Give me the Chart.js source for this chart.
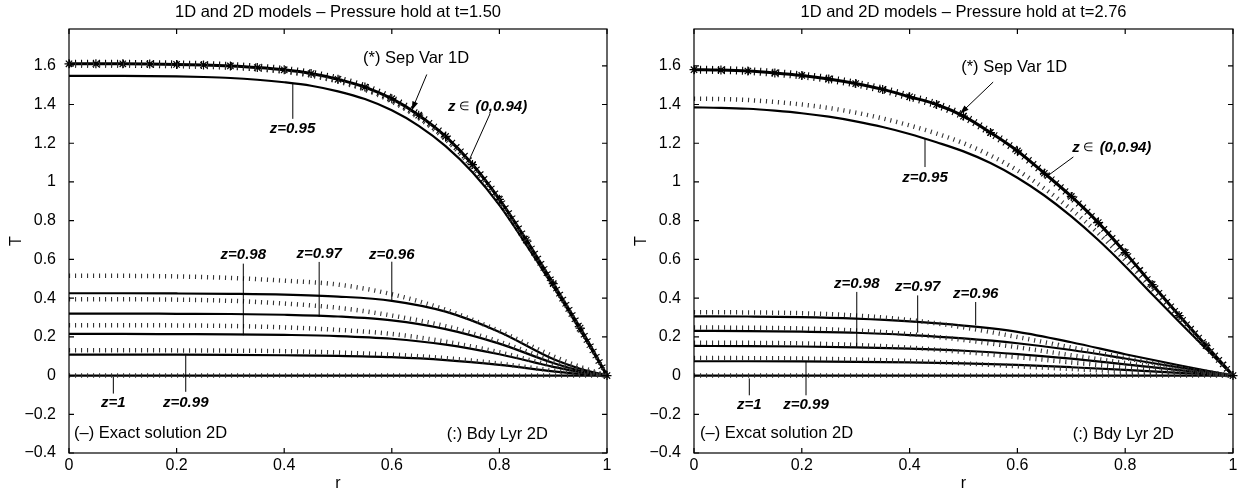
<!DOCTYPE html>
<html>
<head>
<meta charset="utf-8">
<script src="https://cdn.jsdelivr.net/npm/chart.js@4.4.0/dist/chart.umd.min.js"></script>
<style>
    body { margin: 0; background: #fff; }
    #wrap { position: relative; width: 1246px; height: 495px; }
    canvas { position: absolute; top: 0; }
</style>
</head>
<body>
<div id="wrap">
    <canvas id="chartLeft" width="623" height="495" style="left:0"></canvas>
    <canvas id="chartRight" width="623" height="495" style="left:623px"></canvas>
</div>
<script>
(function () {
    "use strict";

    //------------------------------------------------------------ Data ---------------------------------------------------------------
    var rMain = [0, 0.05, 0.1, 0.15, 0.2, 0.25, 0.3, 0.35, 0.4, 0.45, 0.5, 0.55, 0.6, 0.65, 0.7, 0.75, 0.8, 0.85, 0.9, 0.95, 1];
    var rLow = [0, 0.1, 0.2, 0.3, 0.4, 0.5, 0.6, 0.7, 0.8, 0.9, 0.95, 1];
    var xTicks = [0, 0.2, 0.4, 0.6, 0.8, 1];
    var yTicks = [-0.4, -0.2, 0, 0.2, 0.4, 0.6, 0.8, 1, 1.2, 1.4, 1.6];

    // t = 1.50
    var sepVar1D_L = [1.610, 1.610, 1.610, 1.609, 1.607, 1.604, 1.599, 1.591, 1.579, 1.560, 1.530, 1.490, 1.430, 1.345, 1.235, 1.090, 0.910, 0.700, 0.475, 0.245, 0];
    var exact95_L = [1.548, 1.548, 1.548, 1.547, 1.545, 1.542, 1.537, 1.528, 1.515, 1.497, 1.468, 1.428, 1.370, 1.290, 1.185, 1.050, 0.880, 0.675, 0.460, 0.235, 0];
    var bdy95_L = [1.605, 1.605, 1.605, 1.604, 1.602, 1.598, 1.592, 1.583, 1.570, 1.549, 1.518, 1.476, 1.415, 1.330, 1.220, 1.075, 0.897, 0.690, 0.468, 0.240, 0];
    var exact96_L = [0.425, 0.425, 0.424, 0.422, 0.418, 0.408, 0.386, 0.330, 0.225, 0.085, 0.035, 0];
    var exact97_L = [0.320, 0.320, 0.319, 0.318, 0.314, 0.305, 0.285, 0.240, 0.165, 0.065, 0.025, 0];
    var exact98_L = [0.215, 0.215, 0.214, 0.213, 0.210, 0.204, 0.190, 0.160, 0.110, 0.045, 0.017, 0];
    var exact99_L = [0.108, 0.108, 0.108, 0.107, 0.105, 0.102, 0.095, 0.080, 0.055, 0.022, 0.008, 0];
    var bdy96_L = [0.515, 0.515, 0.512, 0.504, 0.490, 0.470, 0.420, 0.340, 0.230, 0.100, 0.045, 0];
    var bdy97_L = [0.394, 0.394, 0.392, 0.386, 0.372, 0.350, 0.310, 0.255, 0.175, 0.075, 0.033, 0];
    var bdy98_L = [0.260, 0.260, 0.259, 0.256, 0.249, 0.236, 0.215, 0.175, 0.120, 0.050, 0.022, 0];
    var bdy99_L = [0.131, 0.131, 0.130, 0.129, 0.126, 0.119, 0.108, 0.090, 0.062, 0.026, 0.011, 0];

    // t = 2.76
    var sepVar1D_R = [1.580, 1.578, 1.573, 1.563, 1.550, 1.532, 1.508, 1.478, 1.440, 1.400, 1.340, 1.255, 1.160, 1.045, 0.925, 0.790, 0.635, 0.470, 0.310, 0.155, 0];
    var exact95_R = [1.385, 1.383, 1.378, 1.368, 1.355, 1.337, 1.313, 1.284, 1.248, 1.205, 1.158, 1.098, 1.022, 0.930, 0.822, 0.700, 0.565, 0.420, 0.278, 0.138, 0];
    var bdy95_R = [1.430, 1.428, 1.423, 1.413, 1.400, 1.382, 1.358, 1.328, 1.292, 1.250, 1.200, 1.137, 1.060, 0.966, 0.858, 0.735, 0.596, 0.447, 0.298, 0.148, 0];
    var exact96_R = [0.306, 0.305, 0.302, 0.294, 0.280, 0.258, 0.226, 0.172, 0.110, 0.053, 0.026, 0];
    var exact97_R = [0.231, 0.230, 0.227, 0.221, 0.209, 0.192, 0.167, 0.132, 0.088, 0.042, 0.020, 0];
    var exact98_R = [0.153, 0.152, 0.150, 0.146, 0.139, 0.128, 0.111, 0.087, 0.058, 0.028, 0.013, 0];
    var exact99_R = [0.074, 0.074, 0.073, 0.071, 0.068, 0.063, 0.055, 0.043, 0.029, 0.014, 0.007, 0];
    var bdy96_R = [0.327, 0.326, 0.322, 0.310, 0.287, 0.249, 0.199, 0.145, 0.091, 0.042, 0.020, 0];
    var bdy97_R = [0.248, 0.247, 0.243, 0.233, 0.214, 0.184, 0.146, 0.105, 0.065, 0.030, 0.014, 0];
    var bdy98_R = [0.170, 0.169, 0.166, 0.158, 0.144, 0.122, 0.095, 0.068, 0.042, 0.019, 0.009, 0];
    var bdy99_R = [0.091, 0.090, 0.088, 0.083, 0.075, 0.063, 0.048, 0.034, 0.021, 0.010, 0.005, 0];

    // z = 1 : wall, zero everywhere
    var zeroLine = [0, 0, 0, 0, 0, 0, 0, 0, 0, 0, 0, 0];

    //------------------------------------------------------------ Annotations (data units) ---------------------------------------------------------------
    var annLines_L = [
        { x1: 0.665, y1: 1.555, x2: 0.637, y2: 1.369, arrow: true },
        { x1: 0.7825, y1: 1.352, x2: 0.745, y2: 1.12 },
        { x1: 0.416, y1: 1.512, x2: 0.416, y2: 1.326 },
        { x1: 0.324, y1: 0.578, x2: 0.324, y2: 0.208 },
        { x1: 0.465, y1: 0.587, x2: 0.465, y2: 0.303 },
        { x1: 0.6, y1: 0.588, x2: 0.6, y2: 0.380 },
        { x1: 0.0824, y1: -0.007, x2: 0.0824, y2: -0.093 },
        { x1: 0.217, y1: 0.105, x2: 0.217, y2: -0.084 }
    ];
    var annText_L = [
        { parts: [['(*) Sep Var 1D', 'n']], x: 0.645, y: 1.636 },
        { parts: [['z', 'bi'], [' \u2208  ', 's'], ['(0,0.94)', 'bi']], x: 0.778, y: 1.387 },
        { parts: [['z=0.95', 'bi']], x: 0.4155, y: 1.275 },
        { parts: [['z=0.98', 'bi']], x: 0.324, y: 0.621 },
        { parts: [['z=0.97', 'bi']], x: 0.465, y: 0.630 },
        { parts: [['z=0.96', 'bi']], x: 0.6, y: 0.621 },
        { parts: [['z=1', 'bi']], x: 0.0824, y: -0.139 },
        { parts: [['z=0.99', 'bi']], x: 0.217, y: -0.139 },
        { parts: [['(\u2013) Exact solution 2D', 'n']], x: 0.0093, y: -0.299, align: 'left' },
        { parts: [['(:) Bdy Lyr 2D', 'n']], x: 0.796, y: -0.303 }
    ];

    var annLines_R = [
        { x1: 0.555, y1: 1.516, x2: 0.4935, y2: 1.352, arrow: true },
        { x1: 0.7038, y1: 1.129, x2: 0.6573, y2: 1.034 },
        { x1: 0.4286, y1: 1.223, x2: 0.4286, y2: 1.077 },
        { x1: 0.302, y1: 0.432, x2: 0.302, y2: 0.148 },
        { x1: 0.415, y1: 0.414, x2: 0.415, y2: 0.222 },
        { x1: 0.5226, y1: 0.380, x2: 0.5226, y2: 0.260 },
        { x1: 0.1026, y1: -0.015, x2: 0.1026, y2: -0.102 },
        { x1: 0.2078, y1: 0.071, x2: 0.2078, y2: -0.102 }
    ];
    var annText_R = [
        { parts: [['(*) Sep Var 1D', 'n']], x: 0.594, y: 1.593 },
        { parts: [['z', 'bi'], [' \u2208  ', 's'], ['(0,0.94)', 'bi']], x: 0.775, y: 1.175 },
        { parts: [['z=0.95', 'bi']], x: 0.4286, y: 1.020 },
        { parts: [['z=0.98', 'bi']], x: 0.302, y: 0.475 },
        { parts: [['z=0.97', 'bi']], x: 0.415, y: 0.458 },
        { parts: [['z=0.96', 'bi']], x: 0.5226, y: 0.423 },
        { parts: [['z=1', 'bi']], x: 0.1026, y: -0.153 },
        { parts: [['z=0.99', 'bi']], x: 0.2078, y: -0.153 },
        { parts: [['(\u2013) Excat solution 2D', 'n']], x: 0.0111, y: -0.299, align: 'left' },
        { parts: [['(:) Bdy Lyr 2D', 'n']], x: 0.7965, y: -0.303 }
    ];

    var FONT = "'Liberation Sans', Arial, Helvetica, sans-serif";

    //------------------------------ helpers --------------------------
    function pts(xs, ys) {
        return xs.map(function (x, i) { return { x: x, y: ys[i] }; });
    }

    function solidLine(xs, ys, w) {
        return {
            data: pts(xs, ys), borderColor: '#000', borderWidth: w || 2.2,
            pointRadius: 0, cubicInterpolationMode: 'monotone', fill: false
        };
    }

    // MATLAB ':' style, drawn as short ticks across the curve
    function tickLine(xs, ys, w, color) {
        return {
            data: pts(xs, ys), borderColor: color || '#333', borderWidth: w || 4.5, borderDash: [1.1, 4.9],
            borderCapStyle: 'butt', pointRadius: 0, cubicInterpolationMode: 'monotone', fill: false
        };
    }

    function starLine(xs, ys) {
        return {
            data: pts(xs, ys), borderColor: '#000', borderWidth: 3,
            pointStyle: 'star', pointRadius: 4.5, pointBorderWidth: 1.2,
            pointBorderColor: '#000', pointBackgroundColor: '#000',
            cubicInterpolationMode: 'monotone', fill: false, clip: false
        };
    }

    function fmtTick(v) {
        return String(v).replace('-', '\u2212');
    }

    function partFont(style) {
        if (style === 'bi') return 'italic bold 15px ' + FONT;
        if (style === 's') return '12px ' + FONT;
        return '16.5px ' + FONT;
    }

    //------------------------------ plugin: box, title, labels, annotations --------------------------
    function makeDecor(title, lines, texts) {
        return {
            id: 'decor',
            afterDraw: function (chart) {
                var ctx = chart.ctx;
                var a = chart.chartArea;
                var sx = chart.scales.x, sy = chart.scales.y;
                ctx.save();

                // annotation pointer lines
                ctx.strokeStyle = '#000';
                ctx.fillStyle = '#000';
                ctx.lineWidth = 1;
                lines.forEach(function (l) {
                    var x1 = sx.getPixelForValue(l.x1), y1 = sy.getPixelForValue(l.y1);
                    var x2 = sx.getPixelForValue(l.x2), y2 = sy.getPixelForValue(l.y2);
                    ctx.beginPath();
                    ctx.moveTo(x1, y1);
                    ctx.lineTo(x2, y2);
                    ctx.stroke();
                    if (l.arrow) {
                        var ang = Math.atan2(y2 - y1, x2 - x1);
                        ctx.beginPath();
                        ctx.moveTo(x2, y2);
                        ctx.lineTo(x2 - 9 * Math.cos(ang) + 3 * Math.sin(ang), y2 - 9 * Math.sin(ang) - 3 * Math.cos(ang));
                        ctx.lineTo(x2 - 9 * Math.cos(ang) - 3 * Math.sin(ang), y2 - 9 * Math.sin(ang) + 3 * Math.cos(ang));
                        ctx.closePath();
                        ctx.fill();
                    }
                });

                // annotation texts
                ctx.textBaseline = 'middle';
                ctx.textAlign = 'left';
                texts.forEach(function (t) {
                    var total = 0;
                    t.parts.forEach(function (p) {
                        ctx.font = partFont(p[1]);
                        total += ctx.measureText(p[0]).width;
                    });
                    var px = sx.getPixelForValue(t.x), py = sy.getPixelForValue(t.y);
                    var cx = t.align === 'left' ? px : px - total / 2;
                    t.parts.forEach(function (p) {
                        ctx.font = partFont(p[1]);
                        ctx.fillText(p[0], cx, py);
                        cx += ctx.measureText(p[0]).width;
                    });
                });

                // axes box with inward ticks
                ctx.lineWidth = 1.2;
                ctx.strokeRect(a.left, a.top, a.right - a.left, a.bottom - a.top);
                ctx.beginPath();
                xTicks.forEach(function (v) {
                    var x = sx.getPixelForValue(v);
                    ctx.moveTo(x, a.bottom); ctx.lineTo(x, a.bottom - 5);
                    ctx.moveTo(x, a.top); ctx.lineTo(x, a.top + 5);
                });
                yTicks.forEach(function (v) {
                    var y = sy.getPixelForValue(v);
                    ctx.moveTo(a.left, y); ctx.lineTo(a.left + 5, y);
                    ctx.moveTo(a.right, y); ctx.lineTo(a.right - 5, y);
                });
                ctx.stroke();

                // title and axis labels
                ctx.font = '16.5px ' + FONT;
                ctx.textAlign = 'center';
                ctx.fillText(title, (a.left + a.right) / 2, 12);
                ctx.font = '16px ' + FONT;
                ctx.fillText('r', (a.left + a.right) / 2, 484);
                ctx.translate(a.left - 52, (a.top + a.bottom) / 2);
                ctx.rotate(-Math.PI / 2);
                ctx.fillText('T', 0, 0);
                ctx.restore();
            }
        };
    }

    //------------------------------ chart builder --------------------------
    function buildChart(canvasId, yAxisWidth, padRight, datasets, decor) {
        var el = document.getElementById(canvasId).getContext('2d');
        return new Chart(el, {
            type: 'line',
            data: { datasets: datasets },
            options: {
                responsive: false,
                animation: false,
                layout: { padding: { left: 0, right: padRight, top: 29, bottom: 0 } },
                plugins: { legend: { display: false }, tooltip: { enabled: false }, title: { display: false } },
                scales: {
                    x: {
                        type: 'linear', min: 0, max: 1,
                        afterBuildTicks: function (s) { s.ticks = xTicks.map(function (v) { return { value: v }; }); },
                        afterFit: function (s) { s.height = 42; },
                        grid: { display: false }, border: { display: false },
                        ticks: { color: '#000', font: { family: FONT, size: 16 }, padding: -5, maxRotation: 0, autoSkip: false, callback: fmtTick }
                    },
                    y: {
                        type: 'linear', min: -0.4, max: 1.79,
                        afterBuildTicks: function (s) { s.ticks = yTicks.map(function (v) { return { value: v }; }); },
                        afterFit: function (s) { s.width = yAxisWidth; },
                        grid: { display: false }, border: { display: false },
                        ticks: { color: '#000', font: { family: FONT, size: 16 }, padding: 5, autoSkip: false, callback: fmtTick }
                    }
                }
            },
            plugins: [decor]
        });
    }

    //------------------------------ t = 1.50 --------------------------
    buildChart('chartLeft', 69, 16, [
        tickLine(rLow, bdy96_L), tickLine(rLow, bdy97_L), tickLine(rLow, bdy98_L), tickLine(rLow, bdy99_L), tickLine(rLow, zeroLine),
        tickLine(rMain, bdy95_L), tickLine(rMain, sepVar1D_L, 8, '#000'),
        solidLine(rLow, exact96_L), solidLine(rLow, exact97_L), solidLine(rLow, exact98_L), solidLine(rLow, exact99_L), solidLine(rLow, zeroLine),
        solidLine(rMain, exact95_L),
        starLine(rMain, sepVar1D_L)
    ], makeDecor('1D and 2D models \u2013 Pressure hold at t=1.50', annLines_L, annText_L));

    //------------------------------ t = 2.76 --------------------------
    buildChart('chartRight', 71, 13, [
        tickLine(rLow, bdy96_R), tickLine(rLow, bdy97_R), tickLine(rLow, bdy98_R), tickLine(rLow, bdy99_R), tickLine(rLow, zeroLine),
        tickLine(rMain, bdy95_R), tickLine(rMain, sepVar1D_R, 8, '#000'),
        solidLine(rLow, exact96_R), solidLine(rLow, exact97_R), solidLine(rLow, exact98_R), solidLine(rLow, exact99_R), solidLine(rLow, zeroLine),
        solidLine(rMain, exact95_R),
        starLine(rMain, sepVar1D_R)
    ], makeDecor('1D and 2D models \u2013 Pressure hold at t=2.76', annLines_R, annText_R));
})();
</script>
</body>
</html>
